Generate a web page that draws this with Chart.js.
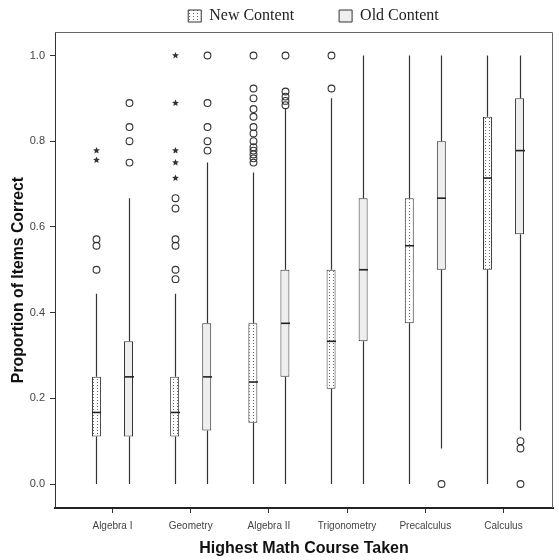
<!DOCTYPE html>
<html><head><meta charset="utf-8">
<script src="https://cdn.jsdelivr.net/npm/chart.js@4.4.1/dist/chart.umd.min.js"></script>
<style>html,body{margin:0;padding:0;background:#fff;}#wrap{width:559px;height:560px;}</style>
</head><body><div id="wrap"><canvas id="c" width="559" height="560"></canvas></div>
<script>
const categories = ['Algebra I','Geometry','Algebra II','Trigonometry','Precalculus','Calculus'];
const seriesNames = ['New Content','Old Content'];
// New Content
const newMin = [0,0,0,0,0,0];
const newQ1 = [0.111,0.111,0.143,0.222,0.375,0.5];
const newMedian = [0.167,0.167,0.238,0.333,0.556,0.714];
const newQ3 = [0.25,0.25,0.375,0.5,0.667,0.857];
const newMax = [0.444,0.444,0.727,0.9,1.0,1.0];
const newOutliers = [[0.5,0.556,0.571],[0.478,0.5,0.556,0.571,0.643,0.667],[0.75,0.76,0.769,0.778,0.786,0.8,0.818,0.833,0.857,0.875,0.9,0.923,1.0],[0.923,1.0],[],[]];
const newExtremes = [[0.756,0.778],[0.714,0.75,0.778,0.889,1.0],[],[],[],[]];
// Old Content
const oldMin = [0,0,0,0,0.083,0.125];
const oldQ1 = [0.111,0.125,0.25,0.333,0.5,0.583];
const oldMedian = [0.25,0.25,0.375,0.5,0.667,0.778];
const oldQ3 = [0.333,0.375,0.5,0.667,0.8,0.9];
const oldMax = [0.667,0.75,0.875,1.0,1.0,1.0];
const oldOutliers = [[0.75,0.8,0.833,0.889],[0.778,0.8,0.833,0.889,1.0],[0.884,0.894,0.904,0.916,1.0],[],[0],[0,0.083,0.1]];
const oldExtremes = [[],[],[],[],[],[]];
const yTicks = [0,0.2,0.4,0.6,0.8,1.0];

function dotPattern(){
  const c=document.createElement('canvas'); c.width=4; c.height=3;
  const g=c.getContext('2d'); g.fillStyle='#ffffff'; g.fillRect(0,0,4,3);
  g.fillStyle='#6a6a6a'; g.fillRect(1,1,1,1);
  return g.createPattern(c,'repeat');
}
const newFill = dotPattern();
const oldFill = '#eeeeee';

const stats = [
  {min:newMin,q1:newQ1,med:newMedian,q3:newQ3,max:newMax,out:newOutliers,ext:newExtremes},
  {min:oldMin,q1:oldQ1,med:oldMedian,q3:oldQ3,max:oldMax,out:oldOutliers,ext:oldExtremes}
];

function star(ctx,x,y,r){
  ctx.beginPath();
  for(let k=0;k<10;k++){
    const a=-Math.PI/2+k*Math.PI/5; const rr=k%2===0?r:r*0.45;
    const px=x+rr*Math.cos(a), py=y+rr*Math.sin(a);
    if(k===0)ctx.moveTo(px,py);else ctx.lineTo(px,py);
  }
  ctx.closePath(); ctx.fill();
}

const boxPlugin = {
  id:'boxDecor',
  afterLayout(chart){
    const lg=chart.legend;
    if(lg){ const dx=37, dy=-37; lg.left+=dx; lg.right+=dx; lg.top+=dy; }
    const ys=chart.scales.y;
    if(ys && !ys._shiftTitle){
      const orig=ys.drawTitle.bind(ys);
      ys.drawTitle=function(){ const c=this.ctx; c.save(); c.translate(0,10); orig(); c.restore(); };
      ys._shiftTitle=true;
    }
  },
  beforeDraw(chart){
    const ctx=chart.ctx; ctx.save(); ctx.fillStyle='#fff'; ctx.fillRect(0,0,chart.width,chart.height); ctx.restore();
  },
  beforeDatasetsDraw(chart){
    const ctx=chart.ctx, ys=chart.scales.y;
    ctx.save(); ctx.strokeStyle='#333'; ctx.lineWidth=1.2;
    chart.data.datasets.forEach((ds,di)=>{
      const meta=chart.getDatasetMeta(di); const s=stats[di];
      meta.data.forEach((el,i)=>{
        const x=Math.round(el.x)+0.5;
        ctx.beginPath();
        ctx.moveTo(x,ys.getPixelForValue(s.q3[i])); ctx.lineTo(x,ys.getPixelForValue(s.max[i]));
        ctx.moveTo(x,ys.getPixelForValue(s.q1[i])); ctx.lineTo(x,ys.getPixelForValue(s.min[i]));
        ctx.stroke();
      });
    });
    ctx.restore();
  },
  afterDatasetsDraw(chart){
    const ctx=chart.ctx, ys=chart.scales.y;
    ctx.save();
    chart.data.datasets.forEach((ds,di)=>{
      const meta=chart.getDatasetMeta(di); const s=stats[di];
      meta.data.forEach((el,i)=>{
        const x=Math.round(el.x)+0.5, w=el.width;
        ctx.strokeStyle='#222'; ctx.lineWidth=1.6;
        const my=ys.getPixelForValue(s.med[i]);
        ctx.beginPath(); ctx.moveTo(x-w/2,my); ctx.lineTo(x+w/2,my); ctx.stroke();
        ctx.lineWidth=1.1; ctx.strokeStyle='#333';
        s.out[i].forEach(v=>{ ctx.beginPath(); ctx.arc(x,ys.getPixelForValue(v),3.4,0,Math.PI*2); ctx.stroke(); });
        ctx.fillStyle='#333';
        s.ext[i].forEach(v=>{ star(ctx,x,ys.getPixelForValue(v),3.6); });
      });
    });
    const a=chart.chartArea;
    ctx.strokeStyle='#666'; ctx.lineWidth=1;
    ctx.beginPath(); ctx.moveTo(a.left,a.top+0.5); ctx.lineTo(a.right-0.5,a.top+0.5); ctx.lineTo(a.right-0.5,a.bottom); ctx.stroke();
    ctx.restore();
  }
};

const chart = new Chart(document.getElementById('c'), {
  type:'bar',
  data:{
    datasets:[
      {label:seriesNames[0], data:categories.map((c,i)=>({x:i,y:[newQ1[i],newQ3[i]]})), backgroundColor:newFill, borderColor:'#333', borderWidth:1, borderSkipped:false},
      {label:seriesNames[1], data:categories.map((c,i)=>({x:i,y:[oldQ1[i],oldQ3[i]]})), backgroundColor:oldFill, borderColor:'#333', borderWidth:1, borderSkipped:false}
    ]
  },
  options:{
    responsive:false, devicePixelRatio:1, animation:false,
    layout:{padding:{left:0,right:6,top:0,bottom:0}},
    categoryPercentage:0.82, barPercentage:0.28,
    plugins:{
      legend:{display:true, position:'top', maxHeight:32,
        labels:{font:{family:'Liberation Serif',size:16}, color:'#222', boxWidth:13, boxHeight:12, padding:45}},
      tooltip:{enabled:false}
    },
    scales:{
      x:{type:'linear', min:-0.735, max:5.633, offset:false,
        afterBuildTicks(s){ s.ticks = categories.map((c,i)=>({value:i})); },
        afterFit(s){ s.height=52; },
        grid:{display:true, offset:false, drawOnChartArea:false, drawTicks:true, tickLength:5, color:'#333', tickWidth:1},
        border:{display:true, color:'#222', width:2},
        ticks:{autoSkip:false, maxRotation:0, padding:7, color:'#444', font:{family:'Liberation Sans',size:10}, callback:(v)=>categories[v]},
        title:{display:true, text:'Highest Math Course Taken', color:'#111', font:{family:'Liberation Sans',size:16,weight:'bold'}, padding:{top:0,bottom:2}}
      },
      y:{type:'linear', min:-0.056, max:1.0548,
        afterBuildTicks(s){ s.ticks = yTicks.map(v=>({value:v})); },
        afterFit(s){ s.width=55; },
        grid:{display:true, drawOnChartArea:false, drawTicks:true, tickLength:5, color:'#333', tickWidth:1},
        border:{display:true, color:'#333', width:1},
        ticks:{padding:5, color:'#444', font:{family:'Liberation Sans',size:11}, callback:(v)=>Number(v).toFixed(1)},
        title:{display:true, text:'Proportion of Items Correct', color:'#111', font:{family:'Liberation Sans',size:15.8,weight:'bold'}, padding:{top:9,bottom:0}}
      }
    }
  },
  plugins:[boxPlugin]
});
</script></body></html>
